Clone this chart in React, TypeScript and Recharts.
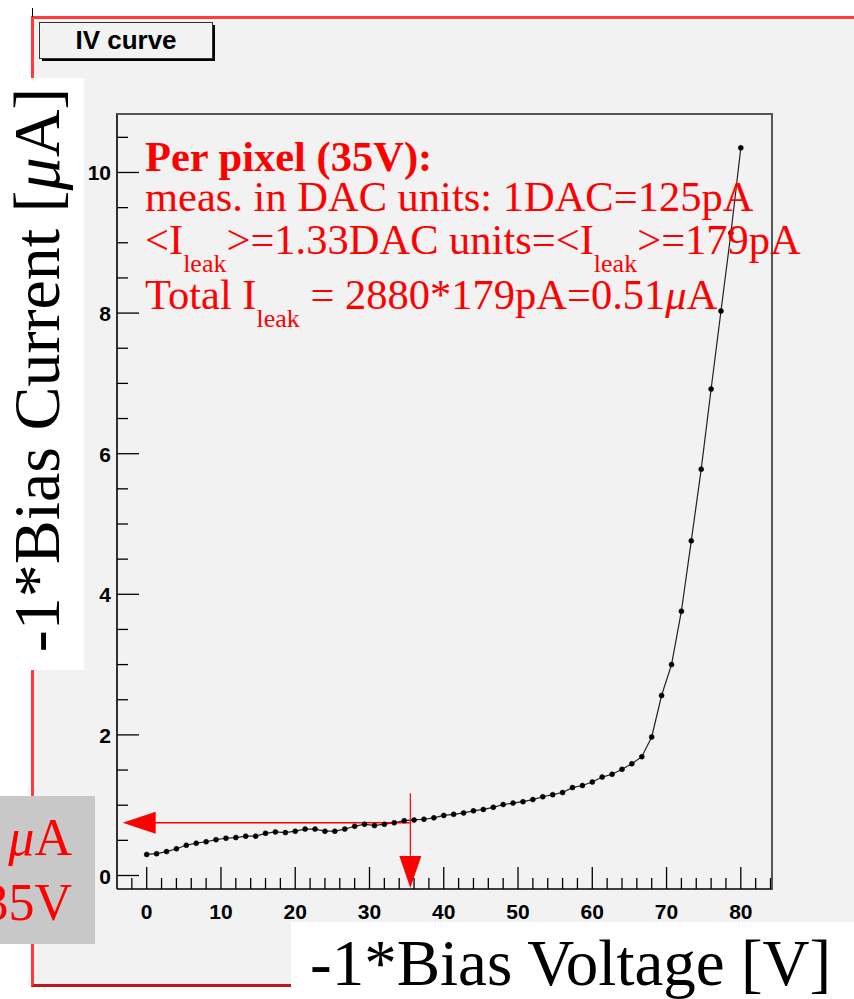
import React from 'react'
import { LineChart, Line, XAxis, YAxis, ReferenceLine, ReferenceDot } from 'recharts'

// bias scan, -1 * voltage [V]
const biasVoltage = [
  0, 1.33, 2.67, 4, 5.33, 6.67, 8, 9.33, 10.67, 12,
  13.33, 14.67, 16, 17.33, 18.67, 20, 21.33, 22.67, 24, 25.33,
  26.67, 28, 29.33, 30.67, 32, 33.33, 34.67, 36, 37.33, 38.67,
  40, 41.33, 42.67, 44, 45.33, 46.67, 48, 49.33, 50.67, 52,
  53.33, 54.67, 56, 57.33, 58.67, 60, 61.33, 62.67, 64, 65.33,
  66.67, 68, 69.33, 70.67, 72, 73.33, 74.67, 76, 77.33, 78.67, 80,
]

// -1 * current [uA]
const biasCurrent = [
  0.3, 0.31, 0.34, 0.38, 0.43, 0.46, 0.48, 0.51, 0.53, 0.54,
  0.56, 0.56, 0.6, 0.62, 0.61, 0.63, 0.66, 0.66, 0.63, 0.63,
  0.66, 0.7, 0.73, 0.71, 0.73, 0.75, 0.78, 0.79, 0.8, 0.82,
  0.855, 0.87, 0.89, 0.92, 0.94, 0.97, 1.01, 1.03, 1.05, 1.08,
  1.12, 1.15, 1.18, 1.25, 1.28, 1.33, 1.4, 1.44, 1.51, 1.59,
  1.69, 1.97, 2.56, 3.0, 3.76, 4.76, 5.78, 6.92, 8.03, 9.14, 10.35,
]

const xMajorTicks = [0, 10, 20, 30, 40, 50, 60, 70, 80]
const yMajorTicks = [0, 2, 4, 6, 8, 10]
const xMinorStep = 2
const yMinorStep = 0.5

// operating point marked with the red arrows
const markVoltage = 35.5
const markCurrent = 0.75

const data = biasVoltage.map((v, i) => ({ v, i: biasCurrent[i] }))

const xTicks: number[] = []
for (let k = -1; k <= 42; k++) xTicks.push(k * xMinorStep)
const yTicks: number[] = []
for (let k = 0; k <= 21; k++) yTicks.push(k * yMinorStep)

const RED = '#ff0000'
const serif = '"Liberation Serif", "Times New Roman", serif'
const sans = '"Liberation Sans", Arial, sans-serif'

const XTick = (props: any) => {
  const { x, y, payload } = props
  const major = xMajorTicks.includes(payload.value)
  return (
    <g>
      <line x1={x} y1={y} x2={x} y2={y - (major ? 22 : 11)} stroke="#000" strokeWidth={1.3} />
      {major && (
        <text x={x} y={y + 30} textAnchor="middle" fontFamily={sans} fontWeight="bold" fontSize={21} fill="#000">
          {payload.value}
        </text>
      )}
    </g>
  )
}

const YTick = (props: any) => {
  const { x, y, payload } = props
  const major = yMajorTicks.includes(payload.value)
  return (
    <g>
      <line x1={x} y1={y} x2={x + (major ? 22 : 11)} y2={y} stroke="#000" strokeWidth={1.3} />
      {major && (
        <text x={x - 6} y={y + 8} textAnchor="end" fontFamily={sans} fontWeight="bold" fontSize={21} fill="#000">
          {payload.value}
        </text>
      )}
    </g>
  )
}

const LeftArrow = (p: any) => (
  <polygon points={`${p.cx},${p.cy} ${p.cx + 33},${p.cy - 11} ${p.cx + 33},${p.cy + 11}`} fill={RED} />
)
const DownArrow = (p: any) => (
  <polygon points={`${p.cx},${p.cy} ${p.cx - 11},${p.cy - 32} ${p.cx + 11},${p.cy - 32}`} fill={RED} />
)

const App: React.FC = () => {
  return (
    <div style={{ position: 'absolute', left: 0, top: 0, width: 854, height: 999, overflow: 'hidden', background: '#fff' }}>
      {/* canvas */}
      <div
        style={{
          position: 'absolute', left: 31, top: 16, width: 860, height: 971, boxSizing: 'border-box',
          background: '#f2f2f2', borderTop: '3px solid #ff3b3b', borderLeft: '3px solid #ff3b3b',
          borderBottom: '3px solid #c01818',
        }}
      />
      <div style={{ position: 'absolute', left: 32, top: 8, width: 1, height: 9, background: '#000' }} />

      <div style={{ position: 'absolute', left: 0, top: 0 }}>
        <LineChart width={854} height={999} data={data} margin={{ top: 113, right: 82, bottom: 70, left: 57 }}>
          <XAxis
            dataKey="v"
            type="number"
            domain={[-4, 84.2]}
            allowDataOverflow
            ticks={xTicks}
            interval={0}
            tick={<XTick />}
            tickLine={false}
            tickSize={0}
            tickMargin={0}
            height={40}
            axisLine={{ stroke: '#000', strokeWidth: 1.6 }}
          />
          <YAxis
            dataKey="i"
            type="number"
            domain={[-0.192, 10.846]}
            allowDataOverflow
            ticks={yTicks}
            interval={0}
            tick={<YTick />}
            tickLine={false}
            tickSize={0}
            tickMargin={0}
            width={60}
            axisLine={{ stroke: '#000', strokeWidth: 1.6 }}
          />
          <Line
            type="linear"
            dataKey="i"
            stroke="#222"
            strokeWidth={1.2}
            dot={{ r: 2.5, fill: '#000', stroke: '#000', strokeWidth: 0.5 }}
            isAnimationActive={false}
          />
          <ReferenceLine
            segment={[{ x: 1.1, y: markCurrent }, { x: markVoltage, y: markCurrent }]}
            stroke={RED}
            strokeWidth={1.5}
          />
          <ReferenceLine
            segment={[{ x: markVoltage, y: 1.17 }, { x: markVoltage, y: 0.28 }]}
            stroke={RED}
            strokeWidth={1.2}
          />
          <ReferenceDot x={-3.23} y={markCurrent} r={1} shape={<LeftArrow />} ifOverflow="visible" />
          <ReferenceDot x={markVoltage} y={-0.178} r={1} shape={<DownArrow />} ifOverflow="visible" />
        </LineChart>
      </div>

      {/* frame top / right */}
      <div
        style={{
          position: 'absolute', left: 117, top: 113, width: 656, height: 777, boxSizing: 'border-box',
          borderTop: '2px solid #555', borderRight: '2px solid #555', pointerEvents: 'none',
        }}
      />

      <svg width={854} height={999} style={{ position: 'absolute', left: 0, top: 0, pointerEvents: 'none' }}>
        {/* title box */}
        <rect x={42} y={25} width={173} height={36} fill="#000" />
        <rect x={39.5} y={22.5} width={173} height={36} fill="#f2f2f2" stroke="#333" strokeWidth={1} />
        <text x={126} y={49} textAnchor="middle" fontFamily={sans} fontWeight="bold" fontSize={26} fill="#000">
          IV curve
        </text>

        {/* y axis title */}
        <rect x={0} y={78} width={84} height={592} fill="#fff" />
        <text
          x={59}
          y={370}
          transform="rotate(-90, 59, 370)"
          textAnchor="middle"
          fontFamily={serif}
          fontSize={66}
          fill="#000"
        >
          -1*Bias Current [<tspan fontStyle="italic">μ</tspan>A]
        </text>

        {/* x axis title */}
        <rect x={291} y={922} width={570} height={80} fill="#fff" />
        <text x={310} y={985} fontFamily={serif} fontSize={65} fill="#000">
          -1*Bias Voltage [V]
        </text>

        {/* operating point box */}
        <rect x={0} y={796} width={95} height={148} fill="#c8c8c8" />
        <text x={72} y={855} textAnchor="end" fontFamily={serif} fontSize={52} fill={RED}>
          0.75 <tspan fontStyle="italic">μ</tspan>A
        </text>
        <text x={72} y={920} textAnchor="end" fontFamily={serif} fontSize={52} fill={RED}>
          @ 35V
        </text>

        {/* per pixel annotation */}
        <g fontFamily={serif} fontSize={42.5} fill={RED}>
          <text x={145} y={171} fontWeight="bold">Per pixel (35V):</text>
          <text x={145} y={211}>meas. in DAC units: 1DAC=125pA</text>
          <text x={145} y={254}>
            &lt;I<tspan dy={18} fontSize={26}>leak</tspan>
            <tspan dy={-18}>&gt;=1.33DAC units=&lt;I</tspan>
            <tspan dy={18} fontSize={26}>leak</tspan>
            <tspan dy={-18}>&gt;=179pA</tspan>
          </text>
          <text x={145} y={309}>
            Total I<tspan dy={18} fontSize={26}>leak</tspan>
            <tspan dy={-18}> = 2880*179pA=0.51</tspan>
            <tspan fontStyle="italic">μ</tspan>A
          </text>
        </g>
      </svg>
    </div>
  )
}

export default App
